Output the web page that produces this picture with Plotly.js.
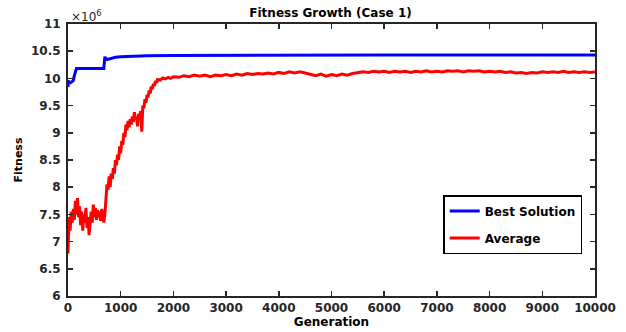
<!DOCTYPE html>
<html>
<head>
<meta charset="utf-8">
<script src="https://cdn.plot.ly/plotly-3.0.1.min.js"></script>
<style>html,body{margin:0;padding:0;background:#fff;}#chart{width:626px;height:332px;}</style>
</head>
<body>
<div id="chart"></div>
<script>
// Values in units of 10^6
const bestGen = [0, 5, 10, 20, 40, 60, 80, 100, 120, 140, 160, 180, 300, 500, 680, 690, 700, 710, 720, 730, 750, 780, 820, 900, 1000, 1200, 1500, 2000, 3000, 4000, 5000, 6000, 7000, 8000, 9000, 10000];
const bestVal = [9.84, 9.97, 9.90, 9.93, 9.92, 9.93, 9.94, 9.96, 10.05, 10.12, 10.18, 10.18, 10.18, 10.18, 10.18, 10.30, 10.40, 10.37, 10.33, 10.36, 10.35, 10.36, 10.37, 10.39, 10.40, 10.41, 10.415, 10.42, 10.425, 10.43, 10.43, 10.43, 10.43, 10.43, 10.43, 10.43];

const avgGen = [0, 20, 40, 60, 80, 100, 120, 140, 160, 180, 200, 220, 240, 260, 280, 300, 320, 340, 360, 380, 400, 420, 440, 460, 480, 500, 520, 540, 560, 580, 600, 620, 640, 660, 680, 700,
  720, 740, 760, 780, 800, 820, 840, 860, 880, 900, 920, 940, 960, 980, 1000, 1020, 1040, 1060, 1080, 1100, 1120, 1140, 1160, 1180, 1200, 1220, 1240, 1260, 1280, 1300, 1320, 1340, 1360, 1380, 1400,
  1420, 1440, 1460, 1480, 1500, 1520, 1540, 1560, 1580, 1600, 1620, 1640, 1660, 1680, 1700, 1750, 1800, 1850, 1900, 1950, 2000,
  2100, 2200, 2300, 2400, 2500, 2600, 2700, 2800, 2900, 3000, 3100, 3200, 3300, 3400, 3500, 3600, 3700, 3800, 3900, 4000,
  4100, 4200, 4300, 4400, 4500, 4600, 4700, 4800, 4900, 5000, 5100, 5200, 5300, 5400, 5500, 5600, 5700, 5800, 5900, 6000,
  6100, 6200, 6300, 6400, 6500, 6600, 6700, 6800, 6900, 7000, 7100, 7200, 7300, 7400, 7500, 7600, 7700, 7800, 7900, 8000,
  8100, 8200, 8300, 8400, 8500, 8600, 8700, 8800, 8900, 9000, 9100, 9200, 9300, 9400, 9500, 9600, 9700, 9800, 9900, 10000];
const avgVal = [6.78, 7.45, 7.20, 7.55, 7.35, 7.60, 7.40, 7.75, 7.50, 7.80, 7.45, 7.65, 7.30, 7.55, 7.20, 7.50, 7.35, 7.62, 7.25, 7.45, 7.12, 7.40, 7.55, 7.35, 7.68, 7.45, 7.62, 7.40, 7.58, 7.45, 7.55, 7.38, 7.60, 7.48, 7.35, 7.50,
  7.85, 8.05, 7.95, 8.20, 8.00, 8.25, 8.15, 8.35, 8.25, 8.50, 8.40, 8.60, 8.50, 8.75, 8.62, 8.85, 8.78, 9.00, 8.92, 9.15, 9.05, 9.22, 9.10, 9.25, 9.15, 9.30, 9.20, 9.38, 9.25, 9.30, 9.12, 9.35, 9.28, 9.40, 9.02,
  9.50, 9.45, 9.62, 9.55, 9.70, 9.65, 9.78, 9.72, 9.85, 9.80, 9.90, 9.86, 9.95, 9.92, 9.98, 9.97, 10.01, 9.99, 10.02, 10.00, 10.03,
  10.02, 10.05, 10.03, 10.06, 10.04, 10.06, 10.03, 10.06, 10.05, 10.07, 10.05, 10.08, 10.06, 10.09, 10.07, 10.09, 10.08, 10.10, 10.08, 10.11,
  10.09, 10.12, 10.10, 10.12, 10.10, 10.08, 10.05, 10.08, 10.04, 10.07, 10.05, 10.08, 10.06, 10.09, 10.11, 10.12, 10.11, 10.13, 10.12, 10.13,
  10.11, 10.13, 10.12, 10.13, 10.11, 10.13, 10.12, 10.14, 10.12, 10.13, 10.12, 10.14, 10.13, 10.14, 10.12, 10.14, 10.13, 10.14, 10.12, 10.13,
  10.12, 10.13, 10.11, 10.12, 10.10, 10.11, 10.09, 10.11, 10.10, 10.12, 10.11, 10.12, 10.11, 10.13, 10.11, 10.12, 10.11, 10.12, 10.11, 10.12];

const xTicks = [0, 1000, 2000, 3000, 4000, 5000, 6000, 7000, 8000, 9000, 10000];
const xTickText = ['0', '1000', '2000', '3000', '4000', '5000', '6000', '7000', '8000', '9000', '10000'];
const yTicks = [6, 6.5, 7, 7.5, 8, 8.5, 9, 9.5, 10, 10.5, 11];
const yTickText = ['6', '6.5', '7', '7.5', '8', '8.5', '9', '9.5', '10', '10.5', '11'];

const FONT = 'DejaVu Sans, Verdana, sans-serif';
const AX = '#262626';

const traces = [
  {x: bestGen, y: bestVal, name: 'Best Solution', mode: 'lines', line: {color: '#0000ff', width: 3}, legendgroup: 'a'},
  {x: avgGen, y: avgVal, name: 'Average', mode: 'lines', line: {color: '#ff0000', width: 3}, legendgroup: 'b'}
];

const layout = {
  width: 626, height: 332,
  margin: {l: 68, r: 31, t: 24, b: 36},
  paper_bgcolor: '#fff', plot_bgcolor: '#fff',
  font: {family: FONT, color: AX, size: 12, weight: 'bold'},
  title: {text: 'Fitness Growth (Case 1)', x: 0.528, xanchor: 'center', y: 0.962, yanchor: 'middle',
    font: {family: FONT, size: 12, color: '#000', weight: 'bold'}},
  xaxis: {range: [0, 10000], tickvals: xTicks, ticktext: xTickText, ticks: 'inside', ticklen: 5, tickwidth: 1.5, tickcolor: AX,
    showline: true, linecolor: AX, linewidth: 2, mirror: 'ticks', showgrid: false, zeroline: false,
    tickfont: {family: FONT, size: 12, color: AX, weight: 'bold'},
    title: {text: 'Generation', standoff: 3, font: {family: FONT, size: 12, color: '#000', weight: 'bold'}}},
  yaxis: {range: [6, 11], tickvals: yTicks, ticktext: yTickText, ticks: 'inside', ticklen: 5, tickwidth: 1.5, tickcolor: AX,
    showline: true, linecolor: AX, linewidth: 2, mirror: 'ticks', showgrid: false, zeroline: false,
    ticklabelstandoff: 3,
    tickfont: {family: FONT, size: 12, color: AX, weight: 'bold'},
    title: {text: 'Fitness', standoff: 6, font: {family: FONT, size: 11, color: '#000', weight: 'bold'}}},
  legend: {x: 0.712, y: 0.371, xanchor: 'left', yanchor: 'top', bordercolor: '#000', borderwidth: 1.5,
    bgcolor: '#fff', font: {family: FONT, size: 12, color: '#000', weight: 'bold'},
    traceorder: 'grouped', tracegroupgap: 8, itemwidth: 30},
  annotations: [
    {text: '×10<sup>6</sup>', xref: 'paper', yref: 'paper', x: 0, y: 1, xanchor: 'left', yanchor: 'bottom',
      xshift: 1, yshift: -2, showarrow: false, font: {family: FONT, size: 12, color: AX, weight: 'normal'}}
  ],
  showlegend: true
};

Plotly.newPlot('chart', traces, layout, {displayModeBar: false, staticPlot: true});
</script>
</body>
</html>
